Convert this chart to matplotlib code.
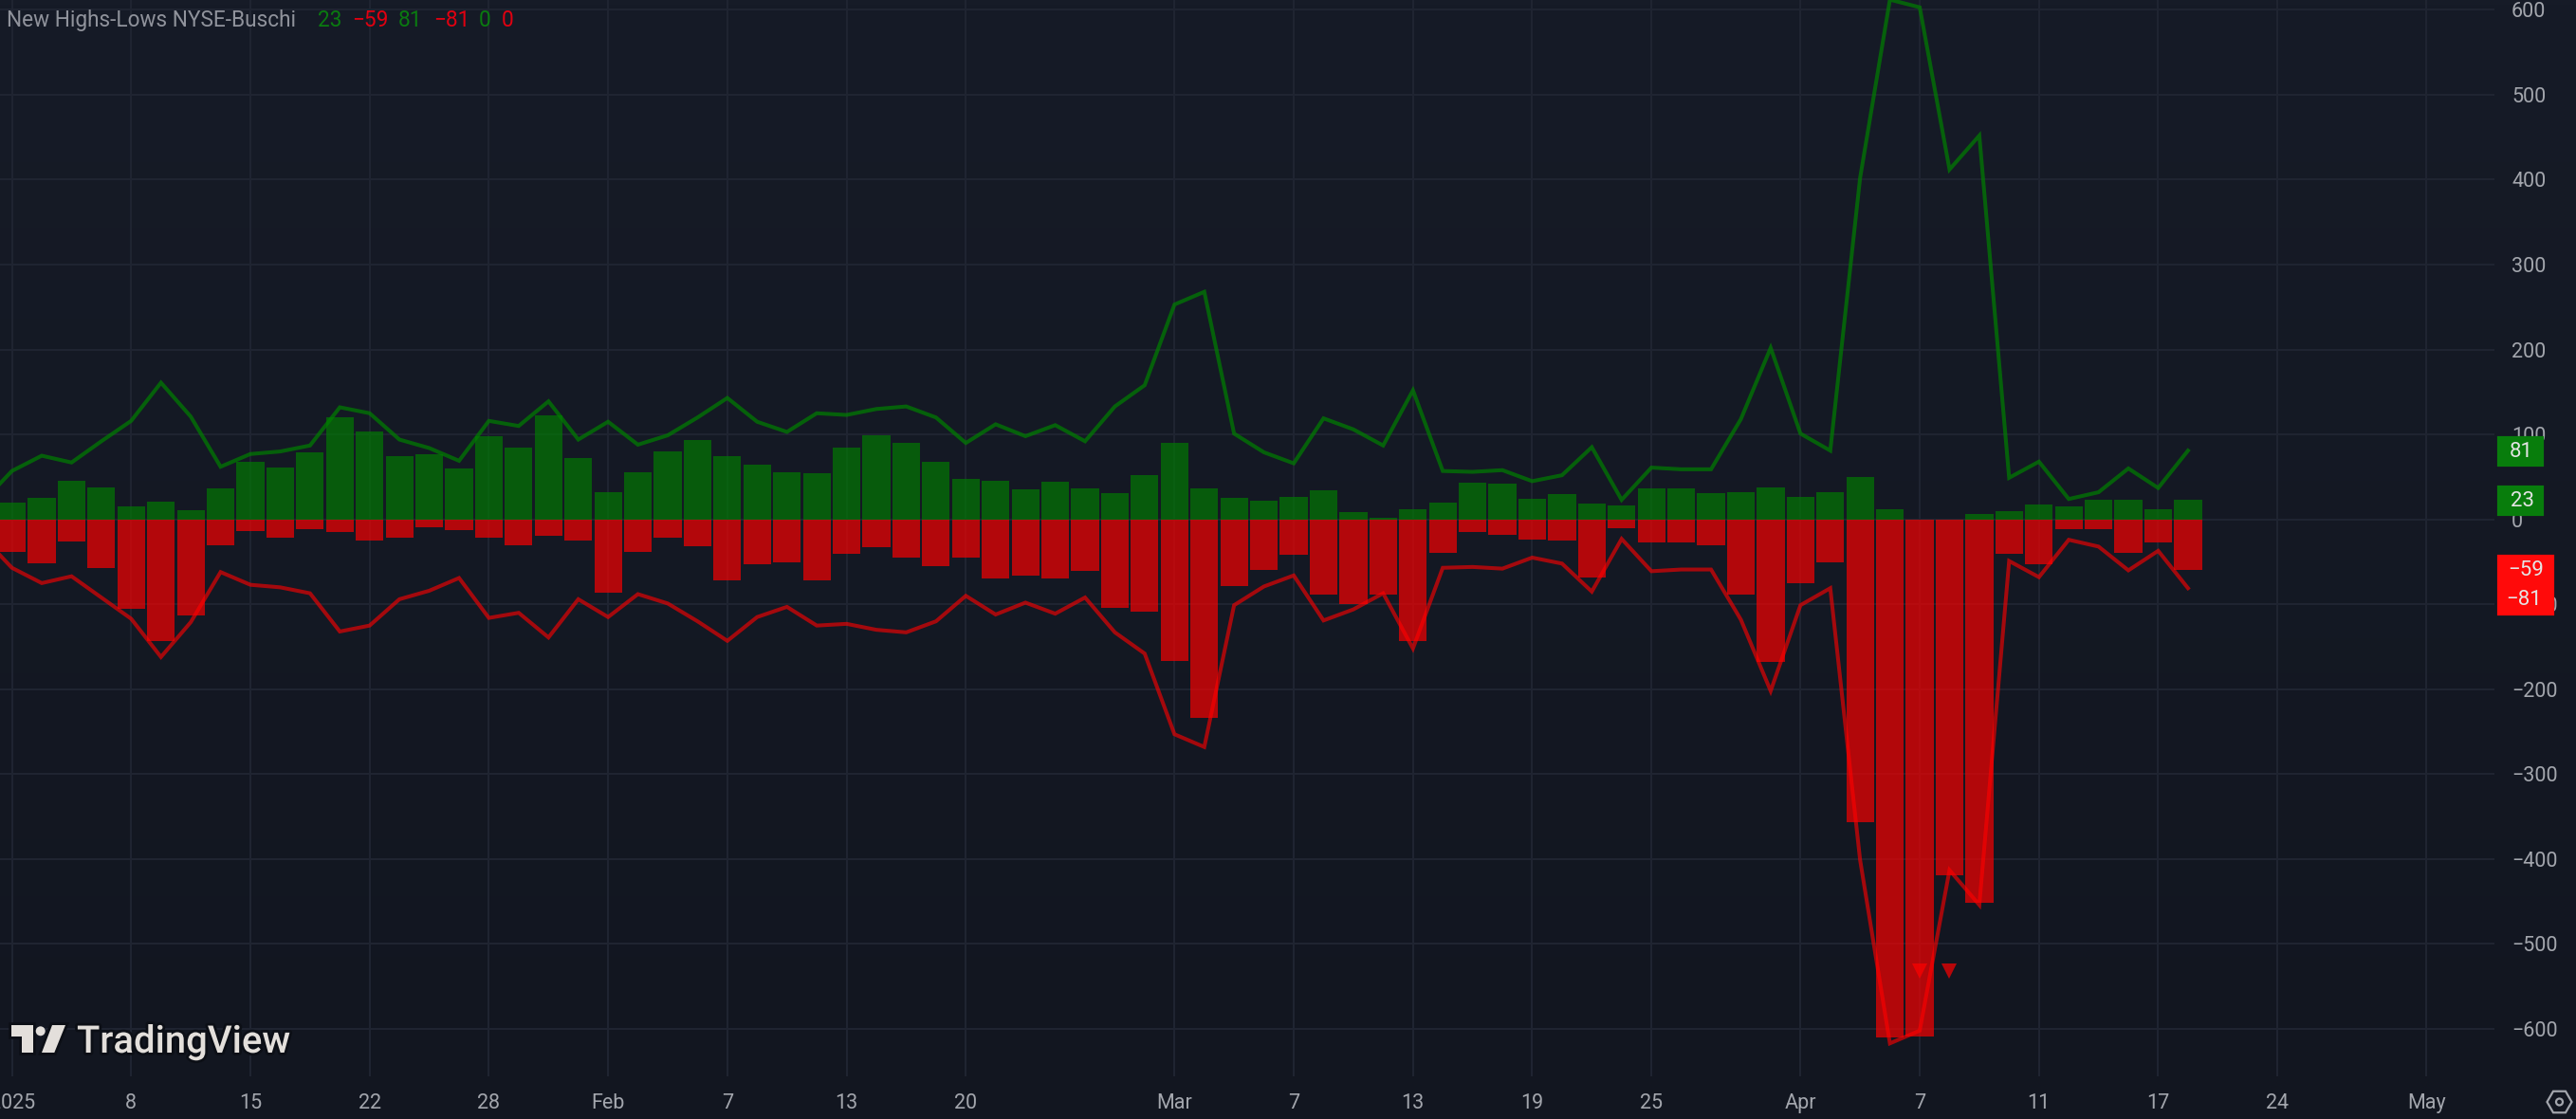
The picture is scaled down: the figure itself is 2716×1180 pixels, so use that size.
#!/usr/bin/env python3
"""
New Highs-Lows NYSE-Buschi indicator, TradingView dark style
"""
import matplotlib
matplotlib.use('Agg')
import matplotlib.pyplot as plt
import matplotlib.patheffects as pe
import numpy as np
from matplotlib.patches import Circle, FancyBboxPatch, Polygon, RegularPolygon

# Bars, one per session
green_bars = [20, 25, 45, 38, 15, 21, 11, 37, 68, 61, 79, 120, 103, 74, 77, 60, 98, 84, 123, 72,
              32, 55, 80, 93, 74, 64, 55, 54, 85, 99, 90, 68, 48, 45, 35, 44, 36, 31, 52, 90,
              37, 25, 22, 26, 34, 9, 2, 12, 20, 43, 42, 24, 30, 19, 16, 36, 36, 31, 32, 38,
              27, 32, 50, 12, 0, 0, 6, 10, 17, 15, 23, 23, 12, 23]
red_bars = [-38, -52, -26, -57, -105, -143, -113, -30, -14, -21, -11, -15, -25, -21, -9, -13, -21, -30, -19, -25,
            -86, -38, -22, -32, -72, -53, -51, -72, -41, -33, -45, -55, -45, -69, -66, -70, -61, -104, -109, -167,
            -234, -78, -60, -42, -88, -100, -88, -143, -39, -15, -18, -24, -25, -68, -10, -27, -27, -31, -89, -168,
            -75, -51, -357, -610, -609, -419, -452, -41, -53, -12, -11, -39, -27, -59]

# Lines start one session before the first visible bar
green_line = [20, 57, 75, 67, 92, 116, 161, 121, 62, 77, 80, 87, 132, 125, 94, 84, 69, 116, 110, 139, 94,
              115, 88, 99, 120, 143, 115, 103, 125, 123, 130, 133, 120, 90, 112, 98, 111, 92, 133, 158, 253,
              268, 101, 79, 66, 119, 106, 87, 152, 57, 56, 58, 45, 52, 85, 23, 61, 59, 59, 118, 202,
              101, 81, 402, 612, 603, 412, 452, 49, 68, 24, 32, 60, 37, 81]
red_line = [-20, -57, -75, -67, -92, -117, -162, -121, -62, -77, -80, -87, -132, -125, -94, -84, -69, -116, -110, -139, -94,
            -115, -88, -99, -120, -143, -115, -103, -125, -123, -130, -133, -120, -90, -112, -98, -111, -92, -133, -158, -253,
            -268, -101, -79, -66, -119, -106, -87, -152, -57, -56, -58, -45, -52, -85, -23, -61, -59, -59, -118, -202,
            -101, -81, -401, -617, -602, -413, -454, -49, -68, -24, -32, -60, -37, -81]

signal_idx = [64, 65]
signal_val = [-532, -532]

x_tick_idx = [0, 4, 8, 12, 16, 20, 24, 28, 32, 39, 43, 47, 51, 55, 60, 64, 68, 72, 76, 81]
x_tick_lab = ['2025', '8', '15', '22', '28', 'Feb', '7', '13', '20', 'Mar', '7', '13', '19', '25',
              'Apr', '7', '11', '17', '24', 'May']
y_ticks = [600, 500, 400, 300, 200, 100, 0, -100, -200, -300, -400, -500, -600]

W, H = 2716, 1180
BG_TOP = '#161b27'
BG_BOT = '#121620'
GRID = '#1f2431'
TXT = '#a3a6ad'
FONT = 'Roboto'

plt.rcParams['font.family'] = FONT

fig = plt.figure(figsize=(W / 100, H / 100), dpi=100, facecolor=BG_BOT)

# Subtle vertical gradient behind everything
bg = fig.add_axes([0, 0, 1, 1], zorder=-1)
bg.imshow(np.linspace(0, 1, 256).reshape(-1, 1), aspect='auto',
          cmap=matplotlib.colors.LinearSegmentedColormap.from_list('bg', [BG_TOP, BG_BOT]))
bg.axis('off')

ax = fig.add_axes([0, 1 - 1135 / H, 2630 / W, 1135 / H])
ax.patch.set_alpha(0)
ax.set_xlim(-0.4, 83.28)
ax.set_ylim(-655.8, 611.6)

bar_x = np.arange(len(green_bars))
line_x = np.arange(-1, len(green_line) - 1)

ax.bar(bar_x, green_bars, width=0.93, color=(0, 0.5, 0, 0.65), linewidth=0, zorder=3)
ax.bar(bar_x, red_bars, width=0.93, color=(1, 0, 0, 0.68), linewidth=0, zorder=3)
ax.plot(line_x, green_line, color=(0, 0.5, 0, 0.7), linewidth=2.9, zorder=4, solid_joinstyle='miter')
ax.plot(line_x, red_line, color=(1, 0, 0, 0.62), linewidth=2.9, zorder=4, solid_joinstyle='miter')
ax.plot(signal_idx, signal_val, linestyle='none', marker='v', markersize=12, markeredgewidth=0,
        color=(1, 0, 0, 0.7), zorder=5)

ax.set_xticks(x_tick_idx)
ax.set_xticklabels(x_tick_lab)
ax.set_yticks(y_ticks)
ax.set_yticklabels([str(v).replace('-', '\u2212') for v in y_ticks])
ax.yaxis.tick_right()
ax.tick_params(axis='both', length=0, labelsize=15.5, labelcolor=TXT)
ax.tick_params(axis='x', pad=13)
ax.tick_params(axis='y', pad=13)
for lab in ax.get_yticklabels():
    lab.set_ha('left')
ax.grid(True, color=GRID, linewidth=1.5, zorder=0)
ax.set_axisbelow(True)
for s in ax.spines.values():
    s.set_visible(False)


def px(x, y):
    return (x / W, 1 - y / H)


# Legend line at top left
fig.text(*px(7, 28), 'New Highs-Lows NYSE-Buschi', fontsize=16.3, color='#8f929b', va='baseline')
legend_vals = ['23', '\u221259', '81', '\u221281', '0', '0']
legend_x = [335, 371, 420, 457, 505, 529]
legend_c = ['#0a7a10', '#e00010', '#0a7a10', '#e00010', '#0a7a10', '#e00010']
for v, lx, c in zip(legend_vals, legend_x, legend_c):
    fig.text(*px(lx, 28), v, fontsize=16.3, color=c, va='baseline')


# Price tags on the axis
def tag(x0, x1, y0, y1, color):
    fig.add_artist(FancyBboxPatch(px(x0 + 2, y1 - 2), (x1 - x0 - 4) / W, (y1 - y0 - 4) / H,
                                  boxstyle='round,pad=0', transform=fig.transFigure,
                                  facecolor=color, edgecolor=color, linewidth=3, zorder=6))


tag(2633, 2682, 460, 492, '#087d0c')
tag(2633, 2682, 512, 544, '#087d0c')
tag(2633, 2693, 585, 649, '#ff0a0a')
for label, tx, ty in [('81', 2658, 477), ('23', 2659, 529), ('\u221259', 2663, 602), ('\u221281', 2661, 633)]:
    fig.text(*px(tx, ty), label, fontsize=16, color='#e4e4e4', ha='center', va='center', zorder=7)

# TradingView logo
LOGO = '#e3dfdb'
t_shape = [(12, 1081), (34.7, 1081), (34.7, 1110), (22.7, 1110), (22.7, 1093), (12, 1093)]
slash = [(55, 1081), (69, 1081), (57.3, 1110), (44, 1110)]
halo = [pe.withStroke(linewidth=4, foreground='#0c0f16')]
for pts in (t_shape, slash):
    fig.add_artist(Polygon([px(*p) for p in pts], closed=True, transform=fig.transFigure,
                           facecolor=LOGO, edgecolor='none', zorder=6, path_effects=halo))
fig.add_artist(matplotlib.patches.Ellipse(px(42.7, 1087.3), 10 / W, 10 / H, transform=fig.transFigure,
                                          facecolor=LOGO, edgecolor='none', zorder=6))
fig.text(*px(81, 1110), 'TradingView', fontsize=28.8, color=LOGO, fontweight='medium', va='baseline', zorder=6,
         path_effects=halo)

# Settings icon, bottom right, drawn in pixel coordinates
icon = fig.add_axes([2680 / W, 0, 36 / W, 36 / H])
icon.set_xlim(0, 36)
icon.set_ylim(36, 0)
icon.axis('off')
icon.add_patch(RegularPolygon((18.5, 18), 6, radius=13, orientation=np.pi / 2, fill=False,
                              edgecolor=TXT, linewidth=1.6))
icon.add_patch(Circle((18.5, 18), 3.5, fill=False, edgecolor=TXT, linewidth=1.6))

plt.savefig('out.png', dpi=100, facecolor=BG_BOT)
